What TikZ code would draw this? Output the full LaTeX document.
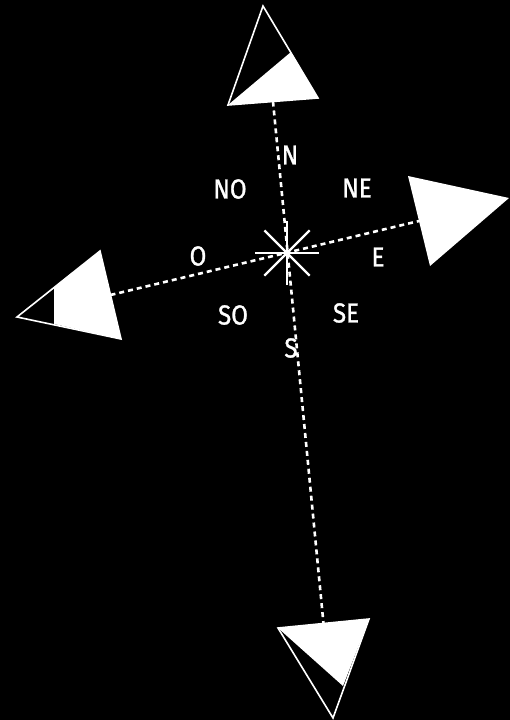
\documentclass[tikz,border=0pt]{standalone}
\usepackage{fontspec}
\newfontfamily\lblfont{Fira Sans}[RawFeature={embolden=1.2}]
\usetikzlibrary{calc}
\tikzset{
  outline/.style={draw=white,line width=1.6pt,line join=miter},
  solidpart/.style={fill=white},
  guide/.style={draw=white,line width=2.6pt,dash pattern=on 5pt off 4pt},
  ray/.style={draw=white,line width=2.2pt},
  lbl/.style={text=white,font=\lblfont\fontsize{27.5}{27.5}\selectfont,inner sep=0pt}
}
\newcommand{\lbltext}[1]{\scalebox{0.88}[1]{#1}}
\begin{document}
\begin{tikzpicture}[x=1pt,y=-1pt]
\fill[black] (0,0) rectangle (510,720);
\useasboundingbox (0,0) rectangle (510,720);
% north marker
\coordinate (nA) at (263,6);
\coordinate (nB) at (228,105);
\coordinate (nC) at (318,98);
\coordinate (nD) at (291,52);
\draw[outline] (nA)--(nB)--(nC)--cycle;
\fill[solidpart] (nB)--(nD)--(nC)--cycle;
\coordinate (nM) at ($(nB)!0.5!(nC)$);
% south marker
\coordinate (sA) at (278,628);
\coordinate (sB) at (369,619);
\coordinate (sC) at (333,718);
\coordinate (sD) at (343,686);
\draw[outline] (sA)--(sB)--(sC)--cycle;
\fill[solidpart] (sA)--(sB)--(sD)--cycle;
\coordinate (sM) at ($(sA)!0.5!(sB)$);
% east marker
\coordinate (eA) at (408,176);
\coordinate (eB) at (430,266);
\coordinate (eC) at (509,198);
\fill[solidpart] (eA)--(eB)--(eC)--cycle;
\coordinate (eM) at ($(eA)!0.5!(eB)$);
% west marker
\coordinate (wA) at (17,317);
\coordinate (wB) at (100,251);
\coordinate (wC) at (121,339);
\coordinate (wD) at (54,288);
\coordinate (wE) at (54,324);
\draw[outline] (wA)--(wB)--(wC)--cycle;
\fill[solidpart] (wD)--(wB)--(wC)--(wE)--cycle;
\coordinate (wM) at ($(wB)!0.5!(wC)$);
% star
\coordinate (c) at (287,253);
\foreach \a in {0,45,90,135} {
  \draw[ray] ($(c)+(\a:32)$) -- ($(c)+(\a+180:32)$);
}
% guide lines
\draw[guide] (nM) -- (sM);
\draw[guide] (wM) -- (eM);
% labels
\node[lbl] (lN) at (290,155) {\lbltext{N}};
\node[lbl] (lNO) at (230,189) {\lbltext{NO}};
\node[lbl] (lNE) at (357,188) {\lbltext{NE}};
\node[lbl] (lO) at (198,256) {\lbltext{O}};
\node[lbl] (lE) at (378,257) {\lbltext{E}};
\node[lbl] (lSO) at (233,315) {\lbltext{SO}};
\node[lbl] (lSE) at (346,313) {\lbltext{SE}};
\node[lbl] (lS) at (291,348) {\lbltext{S}};
\end{tikzpicture}
\end{document}
